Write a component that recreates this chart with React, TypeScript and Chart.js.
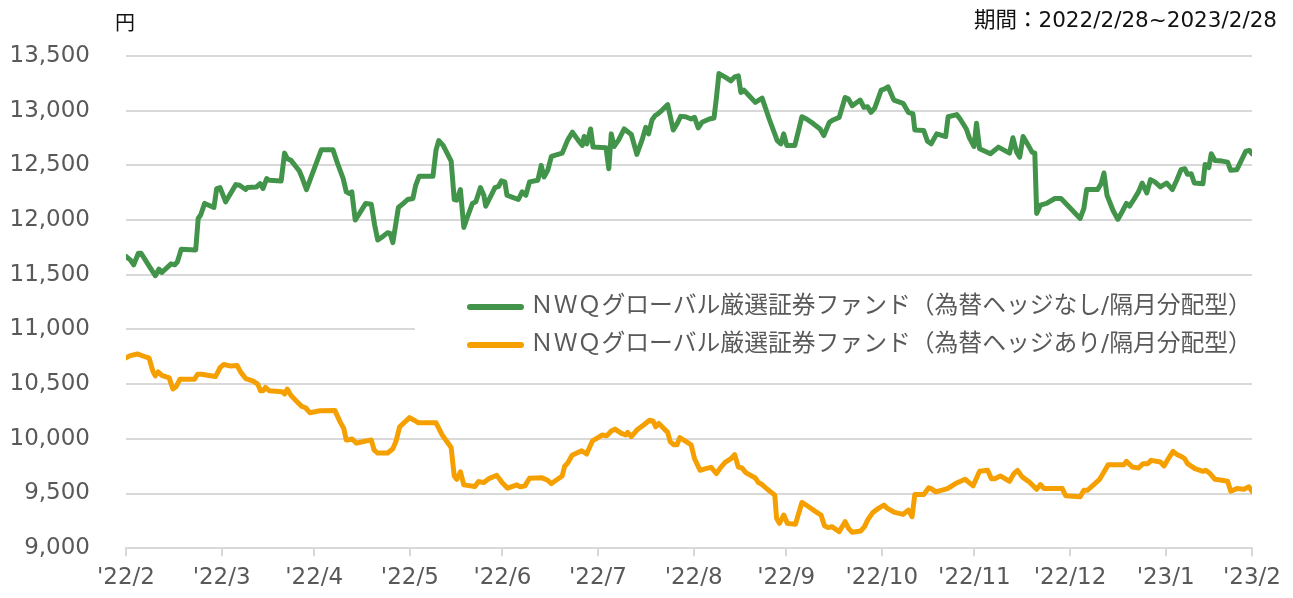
import React, { useEffect, useRef } from 'react';
import { Chart, registerables } from 'chart.js';

Chart.register(...registerables);

// x = calendar days since 2022/2/28
const monthEndDays = [0, 31, 61, 92, 122, 153, 184, 214, 245, 275, 306, 337, 365];
const monthLabels = ["'22/2", "'22/3", "'22/4", "'22/5", "'22/6", "'22/7", "'22/8", "'22/9", "'22/10", "'22/11", "'22/12", "'23/1", "'23/2"];

const yMin = 9000;
const yMax = 13500;
const yStep = 500;

const seriesNames = [
  'ＮＷＱグローバル厳選証券ファンド（為替ヘッジなし/隔月分配型）',
  'ＮＷＱグローバル厳選証券ファンド（為替ヘッジあり/隔月分配型）',
];
const seriesColors = ['#43944b', '#f5a000'];

const unitLabel = '円';
const periodLabel = '期間：2022/2/28~2023/2/28';

// [day, price]
const hedgeOff: [number, number][] = [
  [0, 11667], [1.4, 11636], [2.5, 11591], [4, 11697], [4.9, 11697], [6.9, 11606], [9.5, 11491], [10.7, 11552],
  [11.6, 11521], [14.6, 11600], [15.8, 11591], [16.7, 11621], [17.9, 11733], [22.6, 11727], [23.4, 12015],
  [24.2, 12046], [25.5, 12152], [28.5, 12115], [29.4, 12288], [30.5, 12297], [32.3, 12167], [35.6, 12324],
  [36.8, 12318], [38.8, 12279], [39.3, 12297], [42.3, 12303], [43.5, 12333], [44.4, 12288], [45.6, 12379],
  [46.4, 12364], [50.3, 12358], [51.4, 12612], [52.3, 12561], [53.5, 12546], [56.2, 12449], [57, 12394],
  [58.5, 12279], [60.6, 12439], [63.3, 12642], [67.1, 12642], [68.6, 12515], [70.4, 12379], [71.4, 12258],
  [72.4, 12243], [73.2, 12258], [74.3, 12000], [75.7, 12061], [77.7, 12152], [79.5, 12145], [80.6, 11955],
  [81.6, 11818], [83.2, 11849], [84.8, 11885], [85.6, 11879], [86.5, 11794], [88.3, 12115], [90.1, 12158],
  [91.3, 12188], [93, 12197], [93.9, 12318], [95, 12400], [99.5, 12400], [100.5, 12642], [101.4, 12727],
  [102.8, 12682], [105.4, 12539], [106.4, 12188], [107.2, 12182], [108.4, 12279], [109.5, 11933],
  [110.7, 12030], [112.3, 12152], [113.4, 12167], [114.9, 12297], [116, 12227], [116.6, 12127], [118.4, 12227],
  [119.6, 12297], [120.8, 12309], [121.7, 12358], [122.8, 12349], [123.5, 12227], [124.9, 12212],
  [127.2, 12188], [128.4, 12258], [129.6, 12227], [130.8, 12349], [133.5, 12364], [134.6, 12500],
  [135.5, 12394], [136.7, 12455], [137.9, 12582], [141.4, 12612], [143.2, 12733], [144.7, 12803],
  [146.5, 12733], [147.9, 12682], [148.5, 12764], [149.4, 12697], [150.6, 12833], [151.4, 12667],
  [155.6, 12661], [156.5, 12470], [157.3, 12788], [158.2, 12673], [159.7, 12733], [161.5, 12833],
  [163.8, 12782], [165.6, 12600], [167.4, 12742], [168.5, 12848], [169.4, 12788], [170.5, 12915],
  [171.5, 12955], [172.4, 12970], [173.8, 13006], [175.6, 13055], [177.4, 12824], [178.6, 12879],
  [179.8, 12948], [181.4, 12945], [183.2, 12924], [184.3, 12939], [185.5, 12842], [186.7, 12894],
  [189.1, 12924], [190.6, 12933], [191.4, 13121], [192.2, 13339], [194.1, 13309], [196.1, 13273],
  [197.3, 13309], [198.5, 13318], [199.3, 13167], [200.3, 13188], [202, 13136], [204, 13076], [206.2, 13115],
  [208.5, 12924], [211.1, 12727], [212.3, 12697], [213.2, 12788], [214.2, 12682], [216.8, 12682],
  [218, 12818], [219.1, 12945], [220.6, 12924], [222.9, 12879], [225, 12833], [226.2, 12773], [228, 12894],
  [229.2, 12915], [231.2, 12939], [233.1, 13121], [234.2, 13106], [235.4, 13045], [238, 13097],
  [239.2, 13030], [240.4, 13036], [241.5, 12985], [242.7, 13024], [244.8, 13188], [245.8, 13197],
  [247, 13218], [248.9, 13097], [251.9, 13067], [253.6, 12985], [255.1, 12970], [255.7, 12824],
  [258.6, 12818], [259.8, 12721], [261, 12697], [262.8, 12788], [265.7, 12764], [266.5, 12945],
  [269.3, 12964], [270.4, 12924], [272.4, 12833], [273.4, 12752], [274.9, 12673], [275.7, 12885],
  [276.7, 12652], [280.2, 12606], [282.8, 12667], [286.4, 12612], [287.5, 12752], [288.7, 12621],
  [289.7, 12576], [290.8, 12764], [292.8, 12667], [293.7, 12621], [294.6, 12612], [295.2, 12061],
  [296.4, 12136], [298.4, 12152], [301.1, 12197], [303.1, 12197], [305.2, 12136], [309.3, 12015],
  [310.5, 12106], [311.4, 12279], [314.9, 12279], [316.1, 12333], [317, 12430], [318, 12227], [320, 12085],
  [321.5, 12006], [322.9, 12076], [324.3, 12152], [325.3, 12127], [326.7, 12188], [328.2, 12258],
  [329.4, 12339], [330.9, 12248], [332.1, 12370], [333.5, 12349], [335.3, 12303], [337.3, 12339],
  [339.2, 12279], [340.6, 12364], [342, 12461], [343.2, 12470], [344.1, 12418], [345.3, 12424],
  [346.3, 12339], [349.1, 12333], [349.8, 12509], [351, 12479], [351.8, 12606], [353, 12545], [355.3, 12539],
  [357.1, 12530], [358.1, 12455], [360.1, 12461], [363, 12630], [364.2, 12636], [365, 12606],
];

const hedgeOn: [number, number][] = [
  [0, 10740], [1.4, 10761], [3.7, 10776], [5.7, 10755], [7.5, 10737], [8.7, 10620], [9.5, 10575], [10.4, 10611],
  [11.6, 10581], [14, 10557], [15.2, 10455], [16.3, 10479], [17.5, 10545], [22.2, 10545], [23.2, 10590],
  [24.6, 10590], [26.4, 10581], [29, 10569], [30.5, 10650], [31.7, 10680], [34, 10665], [36, 10671],
  [37.3, 10605], [38.8, 10551], [41.1, 10530], [42.7, 10500], [43.6, 10440], [44.4, 10440], [45.2, 10470],
  [46.4, 10440], [50.6, 10431], [51.4, 10410], [52.3, 10455], [53.5, 10395], [55.6, 10335], [57, 10296],
  [58.2, 10284], [59.6, 10239], [62.9, 10257], [67.7, 10260], [69.4, 10155], [70.6, 10095], [71.4, 9990],
  [72.1, 9990], [73.3, 9999], [74.7, 9960], [75.9, 9969], [79.5, 9990], [80.4, 9900], [81.6, 9870],
  [84.8, 9870], [86.5, 9909], [87.5, 9975], [88.7, 10110], [90.7, 10161], [91.9, 10194], [93.4, 10170],
  [94.8, 10146], [100.5, 10146], [102.5, 10035], [105.4, 9921], [106.4, 9660], [107.2, 9630], [108.4, 9699],
  [109.5, 9579], [113.1, 9564], [114.3, 9609], [116, 9600], [117.8, 9639], [120.2, 9666], [121.9, 9600],
  [123.7, 9549], [126.7, 9579], [127.8, 9561], [129.3, 9570], [130.8, 9639], [134.7, 9645], [136.7, 9621],
  [137.9, 9591], [141.4, 9660], [142.2, 9750], [143.2, 9780], [144.6, 9849], [147.7, 9891], [149.3, 9861],
  [151.2, 9981], [152.6, 10005], [154.4, 10035], [155.9, 10029], [157.3, 10071], [158.5, 10089],
  [160.6, 10050], [162, 10035], [162.6, 10059], [163.8, 10020], [165.6, 10080], [168, 10131], [169.7, 10170],
  [170.9, 10161], [171.7, 10110], [172.7, 10140], [175.6, 10059], [176.4, 9975], [177.6, 9945], [178.6, 9945],
  [179.5, 10011], [180.7, 9990], [183.2, 9945], [184.3, 9818], [186.1, 9712], [187.9, 9727], [189.7, 9739],
  [191.4, 9682], [192.6, 9733], [194.1, 9782], [196.1, 9818], [197.3, 9855], [198.5, 9742], [199.7, 9733],
  [200.9, 9691], [204, 9642], [205, 9600], [206.2, 9582], [207.9, 9539], [210.3, 9485], [210.9, 9273],
  [211.8, 9227], [213.2, 9303], [214.4, 9227], [217, 9218], [219.1, 9418], [221.3, 9379], [223.3, 9339],
  [225.3, 9303], [226.4, 9206], [227.6, 9188], [228.8, 9197], [231.2, 9152], [233.1, 9242], [234.2, 9182],
  [235.4, 9145], [238.2, 9158], [239.4, 9197], [240.4, 9258], [242.1, 9327], [243.9, 9364], [245.7, 9394],
  [246.8, 9364], [249.2, 9327], [251.9, 9309], [253.6, 9348], [254.8, 9288], [255.7, 9491], [258.6, 9491],
  [260.2, 9552], [261, 9545], [262.5, 9515], [266.3, 9545], [268.9, 9591], [272, 9630], [274.6, 9570],
  [276.7, 9703], [279.3, 9712], [280.5, 9636], [281.6, 9636], [283.4, 9661], [286.4, 9612], [287.8, 9682],
  [289, 9712], [290.5, 9652], [292.8, 9606], [295.2, 9539], [296.4, 9582], [297.6, 9545], [303.5, 9545],
  [304.6, 9479], [309.3, 9470], [310.5, 9530], [311.7, 9530], [315.6, 9630], [317, 9697], [318.4, 9764],
  [323.5, 9764], [324.3, 9794], [326.2, 9742], [328.2, 9733], [329.7, 9773], [331.2, 9773], [332.3, 9803],
  [335.3, 9788], [336.5, 9752], [338, 9824], [339.4, 9885], [340.8, 9855], [342.4, 9833], [343.2, 9818],
  [344.1, 9773], [346.5, 9727], [349.1, 9703], [350, 9712], [351.4, 9682], [353, 9630], [355.3, 9621],
  [357.1, 9612], [358.1, 9521], [360.1, 9545], [362.4, 9539], [364, 9561], [365, 9521],
];

const tickFont = { family: '"DejaVu Sans", Verdana, sans-serif', size: 23 };
const jpFont = '"DejaVu Sans", "Noto Sans CJK JP", sans-serif';

const overlayPlugin = {
  id: 'overlay',
  beforeDatasetsDraw(chart: any) {
    const { ctx, chartArea } = chart;
    ctx.save();
    ctx.fillStyle = '#ffffff';
    ctx.fillRect(415, 289, chartArea.right + 20 - 415, 72);
    ctx.restore();
  },
  afterDraw(chart: any) {
    const { ctx } = chart;
    ctx.save();
    // unit & period
    ctx.fillStyle = '#111111';
    ctx.textBaseline = 'middle';
    ctx.font = `20px ${jpFont}`;
    ctx.textAlign = 'left';
    ctx.fillText(unitLabel, 115, 25);
    ctx.font = `21.5px ${jpFont}`;
    ctx.textAlign = 'right';
    ctx.fillText(periodLabel, 1277, 21);
    // legend
    const rows = [307, 345];
    seriesNames.forEach((name, i) => {
      const y = rows[i];
      ctx.strokeStyle = seriesColors[i];
      ctx.lineWidth = 6;
      ctx.lineCap = 'round';
      ctx.beginPath();
      ctx.moveTo(470, y);
      ctx.lineTo(521, y);
      ctx.stroke();
      ctx.fillStyle = '#595959';
      ctx.font = `23.8px ${jpFont}`;
      ctx.textAlign = 'left';
      ctx.textBaseline = 'middle';
      ctx.fillText(name, 530, y);
    });
    ctx.restore();
  },
};

export default function App() {
  const ref = useRef<HTMLCanvasElement | null>(null);
  useEffect(() => {
    if (!ref.current) return;
    const chart = new Chart(ref.current, {
      type: 'line',
      data: {
        datasets: [
          {
            label: seriesNames[0],
            data: hedgeOff.map(([x, y]) => ({ x, y })),
            borderColor: seriesColors[0],
            backgroundColor: seriesColors[0],
            borderWidth: 5,
            pointRadius: 0,
            tension: 0,
            borderJoinStyle: 'round',
            borderCapStyle: 'round',
          },
          {
            label: seriesNames[1],
            data: hedgeOn.map(([x, y]) => ({ x, y })),
            borderColor: seriesColors[1],
            backgroundColor: seriesColors[1],
            borderWidth: 5,
            pointRadius: 0,
            tension: 0,
            borderJoinStyle: 'round',
            borderCapStyle: 'round',
          },
        ],
      },
      options: {
        animation: false,
        responsive: false,
        devicePixelRatio: 1,
        layout: { padding: { top: 56, right: 41, left: 0, bottom: 0 } },
        plugins: { legend: { display: false }, tooltip: { enabled: false } },
        scales: {
          x: {
            type: 'linear',
            min: 0,
            max: 365,
            afterBuildTicks: (scale: any) => {
              scale.ticks = monthEndDays.map((v) => ({ value: v }));
            },
            afterFit: (scale: any) => {
              scale.height = 46;
            },
            ticks: {
              autoSkip: false,
              maxRotation: 0,
              font: tickFont,
              color: '#595959',
              padding: 8,
              callback: (value: any) => {
                const i = monthEndDays.indexOf(Number(value));
                return i >= 0 ? monthLabels[i] : '';
              },
            },
            grid: {
              drawOnChartArea: false,
              drawTicks: true,
              tickLength: 8,
              color: '#d9d9d9',
              lineWidth: 2,
            },
            border: { display: true, color: '#d9d9d9', width: 2 },
          },
          y: {
            min: yMin,
            max: yMax,
            afterFit: (scale: any) => {
              scale.width = 126;
            },
            ticks: {
              stepSize: yStep,
              font: tickFont,
              color: '#595959',
              padding: 36,
              callback: (value: any) => Number(value).toLocaleString('en-US'),
            },
            grid: { color: '#d9d9d9', lineWidth: 2, drawTicks: false },
            border: { display: false },
          },
        },
      },
      plugins: [overlayPlugin],
    });
    return () => chart.destroy();
  }, []);
  return (
    <div style={{ position: 'fixed', left: 0, top: 0, width: 1293, height: 598, background: '#fff' }}>
      <canvas ref={ref} width={1293} height={598} style={{ display: 'block' }} />
    </div>
  );
}
